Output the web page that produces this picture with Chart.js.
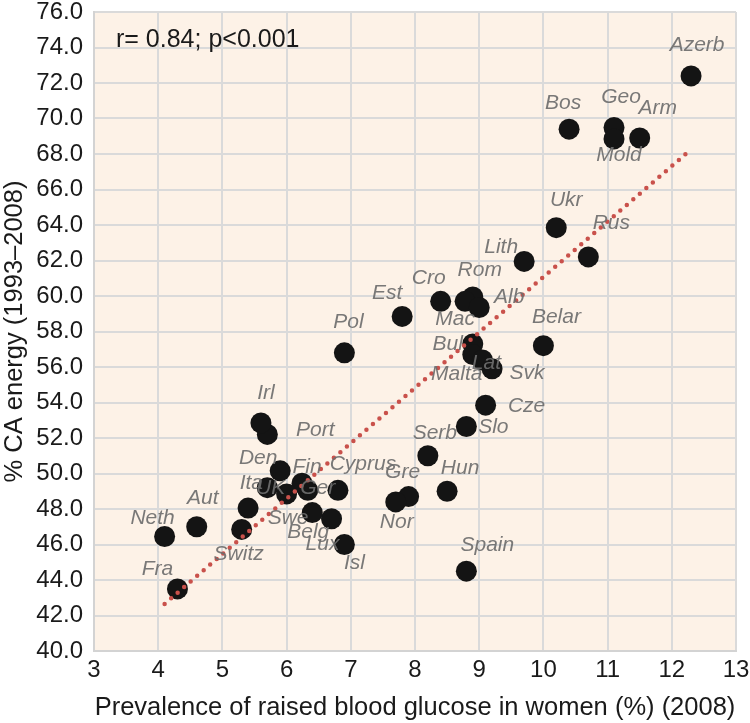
<!DOCTYPE html>
<html>
<head>
<meta charset="utf-8">
<script src="https://cdn.jsdelivr.net/npm/chart.js@4/dist/chart.umd.min.js"></script>
<style>
  html, body { margin: 0; padding: 0; background: #ffffff; }
  #wrap { width: 750px; height: 723px; position: relative; }
</style>
</head>
<body>
<div id="wrap"><canvas id="c" width="750" height="723"></canvas></div>
<script>
// ---- Data ----
const countries = ["Azerb","Bos","Geo","Mold","Arm","Ukr","Rus","Lith","Cro","Rom","Mac","Alb","Est","Pol","Belar","Bul","Malta","Lat","Svk","Cze","Slo","Serb","Hun","Gre","Nor","Spain","Isl","Cyprus","Lux","Belg","Ger","Fin","UK","Ita","Den","Port","Irl","Swe","Switz","Aut","Neth","Fra"];
const glucose = [12.3,10.4,11.1,11.1,11.5,10.2,10.7,9.7,8.4,8.9,8.78,9.0,7.8,6.9,10.0,8.9,8.9,9.05,9.2,9.1,8.8,8.2,8.5,7.9,7.7,8.8,6.9,6.8,6.7,6.4,6.33,6.24,6.0,5.7,5.9,5.7,5.6,5.4,5.3,4.6,4.1,4.3];
const caEnergy = [72.4,69.4,69.5,68.85,68.9,63.85,62.2,61.95,59.7,59.95,59.7,59.35,58.85,56.8,57.2,57.3,56.7,56.4,55.9,53.85,52.65,51.0,49.0,48.7,48.4,44.5,46.0,49.05,47.45,47.8,49.05,49.45,48.85,49.2,50.15,52.2,52.85,48.05,46.85,47.0,46.45,43.5];
const trendX = [4.1, 12.25];
const trendY = [42.65, 68.1];
const xTicks = [3,4,5,6,7,8,9,10,11,12,13];
const yTicks = [40,42,44,46,48,50,52,54,56,58,60,62,64,66,68,70,72,74,76];
const statText = "r= 0.84; p<0.001";
const xTitle = "Prevalence of raised blood glucose in women (%) (2008)";
const yTitle = "% CA energy (1993\u20132008)";

// ---- Label placement (pixel offsets from each point, styling only) ----
const labelOffsets = {
  Azerb:[6,-31], Bos:[-6,-26], Geo:[7,-30], Mold:[5,16], Arm:[18,-30], Ukr:[10,-28],
  Rus:[23,-34], Lith:[-23,-14], Cro:[-12,-23], Rom:[7,-27], Mac:[-10,18], Alb:[30,-10],
  Est:[-15,-23], Pol:[4,-31], Belar:[13,-29], Bul:[-25,0], Malta:[-16,20], Lat:[4,3],
  Svk:[35,4], Cze:[41,1], Slo:[27,1], Serb:[7,-23], Hun:[13,-23], Gre:[-6,-24],
  Nor:[1,20], Spain:[21,-26], Isl:[10,19], Cyprus:[25,-26], Lux:[-9,25], Belg:[-4,20],
  Ger:[10,-2], Fin:[5,-16], UK:[-16,-6], Ita:[-16,-5], Den:[-22,-13], Port:[48,-4],
  Irl:[5,-30], Swe:[40,10], Switz:[-3,25], Aut:[6,-29], Neth:[-12,-18], Fra:[-20,-20]
};

const FONT = "'Liberation Sans', Arial, Helvetica, sans-serif";

const points = countries.map((c, i) => ({ x: glucose[i], y: caEnergy[i], name: c }));
const trend = trendX.map((x, i) => ({ x: x, y: trendY[i] }));

const bgPlugin = {
  id: 'bgPlugin',
  beforeDraw(chart) {
    const { ctx, chartArea: a } = chart;
    ctx.save();
    ctx.fillStyle = '#ffffff';
    ctx.fillRect(0, 0, chart.width, chart.height);
    ctx.fillStyle = '#fdf2e7';
    ctx.fillRect(a.left, a.top, a.right - a.left, a.bottom - a.top);
    ctx.restore();
  }
};

const labelPlugin = {
  id: 'labelPlugin',
  afterDatasetsDraw(chart) {
    const { ctx, chartArea: a } = chart;
    const meta = chart.getDatasetMeta(1);
    ctx.save();
    ctx.font = "italic 21px " + FONT;
    ctx.fillStyle = 'rgba(110,110,110,0.92)';
    ctx.textAlign = 'center';
    ctx.textBaseline = 'middle';
    meta.data.forEach((el, i) => {
      const name = countries[i];
      const off = labelOffsets[name] || [0, -25];
      ctx.fillText(name, el.x + off[0], el.y + off[1]);
    });
    ctx.font = "25px " + FONT;
    ctx.fillStyle = '#1a1a1a';
    ctx.textAlign = 'left';
    ctx.textBaseline = 'alphabetic';
    ctx.fillText(statText, a.left + 22, a.top + 35);
    ctx.restore();
  }
};

new Chart(document.getElementById('c'), {
  type: 'scatter',
  data: {
    datasets: [
      {
        type: 'line',
        data: trend,
        borderColor: '#c9514b',
        borderWidth: 4.5,
        borderDash: [0, 8.6],
        borderCapStyle: 'round',
        pointRadius: 0,
        fill: false,
        order: 0
      },
      {
        data: points,
        backgroundColor: '#141414',
        borderWidth: 0,
        pointRadius: 10.5,
        pointHoverRadius: 10.5,
        order: 1
      }
    ]
  },
  options: {
    responsive: false,
    animation: false,
    devicePixelRatio: 1,
    layout: { padding: { top: 12, right: 14, left: 0, bottom: 0 } },
    plugins: { legend: { display: false }, tooltip: { enabled: false } },
    scales: {
      x: {
        type: 'linear',
        min: 3, max: 13,
        afterBuildTicks(scale) { scale.ticks = xTicks.map(v => ({ value: v })); },
        afterFit(scale) { scale.height = 72; scale.paddingLeft = 0; scale.paddingRight = 0; },
        grid: { color: '#dadada', lineWidth: 2, drawTicks: false },
        border: { color: '#d3d3d3', width: 2 },
        ticks: { color: '#1a1a1a', font: { family: FONT, size: 24 }, padding: 5, maxRotation: 0 },
        title: { display: true, text: xTitle, color: '#1a1a1a', font: { family: FONT, size: 25.5 }, padding: { top: 0, bottom: 0 } }
      },
      y: {
        type: 'linear',
        min: 40, max: 76,
        afterBuildTicks(scale) { scale.ticks = yTicks.map(v => ({ value: v })); },
        afterFit(scale) { scale.width = 94; scale.paddingTop = 0; scale.paddingBottom = 0; },
        grid: { color: '#dadada', lineWidth: 2, drawTicks: false },
        border: { color: '#d3d3d3', width: 2 },
        ticks: { color: '#1a1a1a', font: { family: FONT, size: 24 }, padding: 11, callback: v => v.toFixed(1) },
        title: { display: true, text: yTitle, color: '#1a1a1a', font: { family: FONT, size: 25.5 }, padding: { top: 0, bottom: 0 } }
      }
    }
  },
  plugins: [bgPlugin, labelPlugin]
});
</script>
</body>
</html>
